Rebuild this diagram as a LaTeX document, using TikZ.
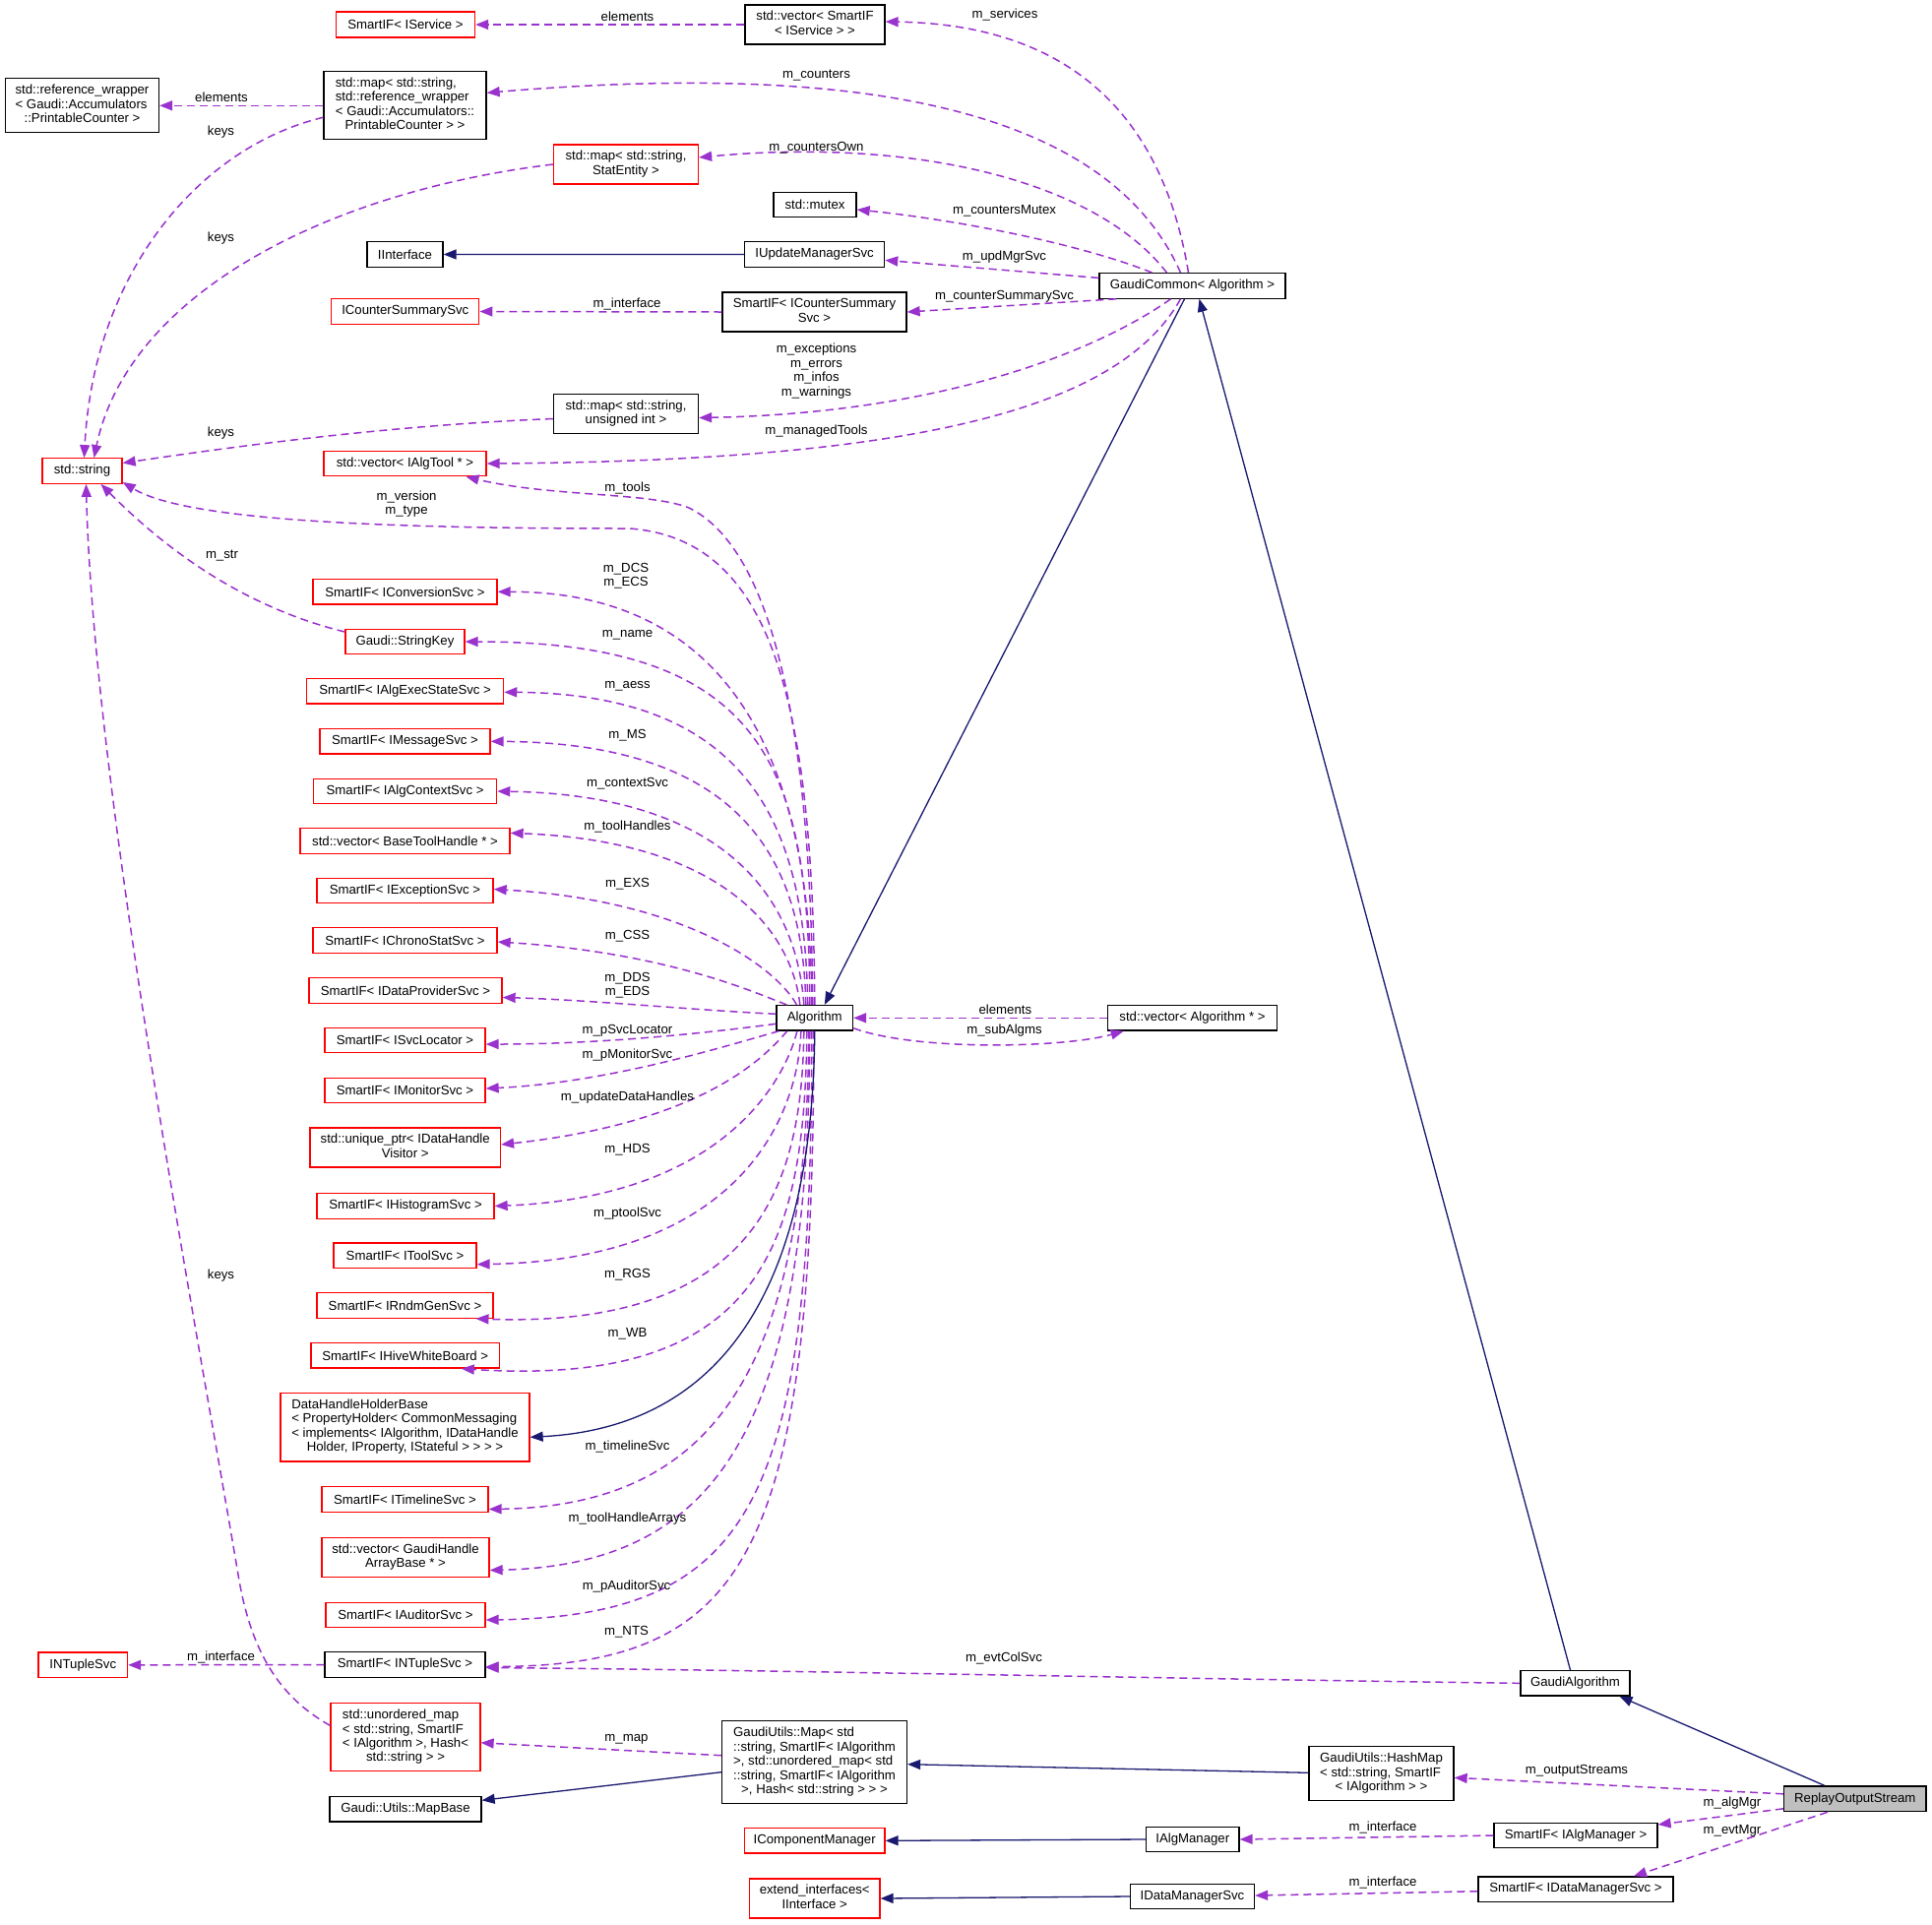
\documentclass[tikz,border=0pt]{standalone}
\usepackage{fontspec}
\setmainfont{Liberation Sans}
\usetikzlibrary{arrows.meta,calc}
\definecolor{purp}{HTML}{9A32CD}
\definecolor{navy}{HTML}{191970}
\definecolor{boxred}{HTML}{FF0000}
\definecolor{greyfill}{HTML}{BFBFBF}
\newcommand\dxf{\fontsize{13.2}{14.4}\selectfont}
\newcommand\ml[2]{\begin{tabular}{@{}l@{}}#1\\\multicolumn{1}{@{}c@{}}{#2}\end{tabular}}
\tikzset{
 bx/.style={draw, fill=white, line width=1.3pt, inner sep=0pt, font=\dxf, anchor=center, minimum height=25.5pt},
 rb/.style={bx, draw=boxred},
 kb/.style={bx, draw=black},
 lb/.style={inner sep=0pt, font=\dxf, align=center},
 dep/.style={draw=purp, line width=1.5pt, dash pattern=on 8pt off 5pt, -{Triangle[length=13pt,width=10pt]}},
 inh/.style={draw=navy, line width=1.3pt, -{Triangle[length=13pt,width=10pt]}},
}
\begin{document}
\begin{tikzpicture}[x=1pt,y=-1pt]
\fill[white] (0,0) rectangle (1963,1955);
\useasboundingbox (0,0) rectangle (1963,1955);
% ---------- nodes ----------
\node[rb,minimum width=141pt,minimum height=26pt] (svc) at (412,25) {SmartIF< IService >};
\node[kb,minimum width=142pt,minimum height=40pt] (vecsvc) at (828,25) {\ml{std::vector< SmartIF}{< IService > >}};
\node[kb,minimum width=156pt,minimum height=55pt] (refw) at (83.5,107.3) {\ml{std::reference\_wrapper\\< Gaudi::Accumulators}{::PrintableCounter >}};
\node[kb,minimum width=165pt,minimum height=69pt] (mapref) at (411.5,107.3) {\ml{std::map< std::string,\\std::reference\_wrapper\\< Gaudi::Accumulators::}{PrintableCounter > >}};
\node[rb,minimum width=147pt,minimum height=40pt] (mapstat) at (636,167) {\ml{std::map< std::string,}{StatEntity >}};
\node[kb,minimum width=84pt] (mutex) at (828,208) {std::mutex};
\node[kb,minimum width=77pt] (iiface) at (411.5,258.5) {IInterface};
\node[kb,minimum width=142pt] (iupd) at (827.6,258.4) {IUpdateManagerSvc};
\node[kb,minimum width=189pt] (gcommon) at (1211.5,290.4) {GaudiCommon< Algorithm >};
\node[rb,minimum width=150pt] (icsum) at (411.8,316.5) {ICounterSummarySvc};
\node[kb,minimum width=187pt,minimum height=40pt] (sicsum) at (827.5,317) {\ml{SmartIF< ICounterSummary}{Svc >}};
\node[kb,minimum width=147pt,minimum height=40pt] (mapuint) at (636,420.5) {\ml{std::map< std::string,}{unsigned int >}};
\node[rb,minimum width=81pt] (stdstr) at (83.5,478.5) {std::string};
\node[rb,minimum width=165pt] (vecat) at (411.5,471) {std::vector< IAlgTool * >};
\node[rb,minimum width=187pt] (iconv) at (411.5,601.3) {SmartIF< IConversionSvc >};
\node[rb,minimum width=121pt] (strkey) at (411.5,652) {Gaudi::StringKey};
\node[rb,minimum width=200pt] (iaess) at (411.6,702.3) {SmartIF< IAlgExecStateSvc >};
\node[rb,minimum width=173pt] (imsg) at (411.5,753.3) {SmartIF< IMessageSvc >};
\node[rb,minimum width=186pt] (ictx) at (411.6,804) {SmartIF< IAlgContextSvc >};
\node[rb,minimum width=213pt] (vecbth) at (411.5,854.4) {std::vector< BaseToolHandle * >};
\node[rb,minimum width=179pt] (iexc) at (411.5,905) {SmartIF< IExceptionSvc >};
\node[rb,minimum width=187pt] (ichrono) at (411.5,955.5) {SmartIF< IChronoStatSvc >};
\node[rb,minimum width=196pt] (idp) at (412,1006.5) {SmartIF< IDataProviderSvc >};
\node[kb,minimum width=77.5pt] (algo) at (827.8,1034.3) {Algorithm};
\node[kb,minimum width=172.3pt] (vecalg) at (1211.5,1034.3) {std::vector< Algorithm * >};
\node[rb,minimum width=163pt] (isvcloc) at (411.5,1057) {SmartIF< ISvcLocator >};
\node[rb,minimum width=163pt] (imon) at (411.5,1108) {SmartIF< IMonitorSvc >};
\node[rb,minimum width=193.5pt,minimum height=40pt] (uptr) at (411.7,1166) {\ml{std::unique\_ptr< IDataHandle}{Visitor >}};
\node[rb,minimum width=180pt] (ihist) at (412,1225.5) {SmartIF< IHistogramSvc >};
\node[rb,minimum width=145pt] (itool) at (411.5,1275.7) {SmartIF< IToolSvc >};
\node[rb,minimum width=179pt] (irndm) at (411.5,1326.5) {SmartIF< IRndmGenSvc >};
\node[rb,minimum width=191.6pt] (ihive) at (411.8,1377.3) {SmartIF< IHiveWhiteBoard >};
\node[rb,minimum width=253pt,minimum height=69.4pt] (dhhb) at (411.5,1450.3) {\ml{DataHandleHolderBase\\< PropertyHolder< CommonMessaging\\< implements< IAlgorithm, IDataHandle}{Holder, IProperty, IStateful > > > >}};
\node[rb,minimum width=169pt] (itime) at (411.5,1523.5) {SmartIF< ITimelineSvc >};
\node[rb,minimum width=170pt,minimum height=40pt] (vecgh) at (412,1582.5) {\ml{std::vector< GaudiHandle}{ArrayBase * >}};
\node[rb,minimum width=162pt] (iaud) at (412,1641) {SmartIF< IAuditorSvc >};
\node[rb,minimum width=90.5pt] (intuple) at (84.3,1691.8) {INTupleSvc};
\node[kb,minimum width=163pt] (sintuple) at (411.5,1691.5) {SmartIF< INTupleSvc >};
\node[rb,minimum width=152pt,minimum height=69pt] (umap) at (412,1765.3) {\ml{std::unordered\_map\\< std::string, SmartIF\\< IAlgorithm >, Hash<}{std::string > >}};
\node[kb,minimum width=188pt,minimum height=84pt] (gumap) at (827.5,1790.7) {\ml{GaudiUtils::Map< std\\::string, SmartIF< IAlgorithm\\>, std::unordered\_map< std\\::string, SmartIF< IAlgorithm}{>, Hash< std::string > > >}};
\node[kb,minimum width=154pt] (mapbase) at (412,1838.3) {Gaudi::Utils::MapBase};
\node[rb,minimum width=142.6pt] (icomp) at (827.7,1870.3) {IComponentManager};
\node[rb,minimum width=132.5pt,minimum height=40pt] (extif) at (827.7,1929) {\ml{extend\_interfaces<}{IInterface >}};
\node[kb,minimum width=111pt] (galg) at (1600.5,1710.3) {GaudiAlgorithm};
\node[kb,minimum width=147pt,minimum height=55pt] (hashmap) at (1403.5,1802.3) {\ml{GaudiUtils::HashMap\\< std::string, SmartIF}{< IAlgorithm > >}};
\node[kb,fill=greyfill,minimum width=144.4pt,minimum height=25.7pt] (replay) at (1884.8,1827.8) {ReplayOutputStream};
\node[kb,minimum width=94.4pt] (ialgmgr) at (1211.8,1869) {IAlgManager};
\node[kb,minimum width=166pt] (sialgmgr) at (1601,1865) {SmartIF< IAlgManager >};
\node[kb,minimum width=126pt] (idms) at (1211.5,1927) {IDataManagerSvc};
\node[kb,minimum width=198pt] (sidms) at (1601,1919.7) {SmartIF< IDataManagerSvc >};
% ---------- GaudiCommon edges ----------
\draw[dep] (vecsvc.west) -- (svc.east);
\draw[dep] ($(gcommon.north)+(-4,0)$) .. controls (1180,110) and (1080,25) .. ($(vecsvc.east)+(0,-3)$);
\draw[dep] ($(gcommon.north)+(-12,0)$) .. controls (1130,120) and (900,60) .. ($(mapref.east)+(0,-13)$);
\draw[dep] ($(gcommon.north)+(-26,0)$) .. controls (1110,180) and (920,140) .. ($(mapstat.east)+(0,-7)$);
\draw[dep] ($(gcommon.north)+(-41,0)$) .. controls (1090,245) and (960,222) .. ($(mutex.east)+(0,5)$);
\draw[dep] ($(gcommon.west)+(0,-8)$) -- ($(iupd.east)+(0,6)$);
\draw[inh] (iupd.west) -- (iiface.east);
\draw[dep] ($(gcommon.south west)+(18,0)$) -- (sicsum.east);
\draw[dep] (sicsum.west) -- (icsum.east);
\draw[dep] ($(gcommon.south)+(-22,0)$) .. controls (1110,360) and (950,420) .. ($(mapuint.east)+(0,4)$);
\draw[dep] ($(gcommon.south)+(-12,0)$) .. controls (1140,410) and (950,468) .. (vecat.east);
% ---------- keys / elements ----------
\draw[dep] (mapref.west) -- (refw.east);
\draw[dep] ($(mapref.west)+(0,12)$) .. controls (200,150) and (95,280) .. ($(stdstr.north)+(2,0)$);
\draw[dep] (mapstat.west) .. controls (330,195) and (130,300) .. ($(stdstr.north)+(12,0)$);
\draw[dep] ($(mapuint.west)+(0,5)$) .. controls (400,432) and (250,452) .. ($(stdstr.east)+(0,-8)$);
\draw[dep] ($(strkey.west)+(0,-10)$) .. controls (260,620) and (180,570) .. ($(stdstr.south)+(19,0)$);
\draw[dep] ($(umap.west)+(0,-12)$) .. controls (285,1725) and (255,1680) .. (242,1600) .. controls (200,1350) and (95,800) .. ($(stdstr.south)+(4,0)$);
% ---------- Algorithm upper fan ----------
\draw[dep] ($(algo.north)+(-2,0)$) .. controls (824,760) and (790,560) .. (700,516) .. controls (660,500) and (560,505) .. ($(vecat.south)+(62,0)$);
\draw[dep] (algo.north) .. controls (826,700) and (780,548) .. (640,537) .. controls (400,537) and (190,530) .. ($(stdstr.south east)+(0,-2)$);
\draw[dep] ($(algo.north)+(-3,0)$) .. controls (824,770) and (740,601) .. (iconv.east);
\draw[dep] ($(algo.north)+(-5,0)$) .. controls (822,780) and (777,652) .. (strkey.east);
\draw[dep] ($(algo.north)+(-7,0)$) .. controls (818,850) and (770,705) .. ($(iaess.east)+(0,1)$);
\draw[dep] ($(algo.north)+(-9,0)$) .. controls (816,880) and (760,755) .. (imsg.east);
\draw[dep] ($(algo.north)+(-11,0)$) .. controls (810,920) and (745,808) .. (ictx.east);
\draw[dep] ($(algo.north)+(-15,0)$) .. controls (805,950) and (740,855) .. ($(vecbth.east)+(0,-8)$);
\draw[dep] ($(algo.north west)+(21,0)$) .. controls (790,985) and (700,915) .. ($(iexc.east)+(0,-1.5)$);
\draw[dep] ($(algo.north west)+(11,0)$) .. controls (770,1010) and (680,968) .. ($(ichrono.east)+(0,1.5)$);
\draw[dep] ($(algo.west)+(0,-4)$) .. controls (700,1026) and (600,1016) .. ($(idp.east)+(0,7)$);
% ---------- Algorithm lower fan ----------
\draw[dep] ($(algo.west)+(0,6)$) .. controls (700,1052) and (600,1061) .. ($(isvcloc.east)+(0,4)$);
\draw[dep] ($(algo.south west)+(3,0)$) .. controls (740,1062) and (620,1100) .. ($(imon.east)+(0,-2)$);
\draw[dep] ($(algo.south)+(-28,0)$) .. controls (780,1070) and (720,1140) .. ($(uptr.east)+(0,-3)$);
\draw[dep] ($(algo.south)+(-18,0)$) .. controls (805,1070) and (760,1215) .. (ihist.east);
\draw[dep] ($(algo.south)+(-14,0)$) .. controls (812,1120) and (765,1280) .. ($(itool.east)+(0,9)$);
\draw[dep] ($(algo.south)+(-11,0)$) .. controls (815,1204) and (770,1350) .. ($(irndm.south)+(72,0)$);
\draw[dep] ($(algo.south)+(-8,0)$) .. controls (818,1270) and (770,1410) .. ($(ihive.south)+(57,0)$);
\draw[dep] ($(algo.south)+(-6,0)$) .. controls (820,1400) and (720,1530) .. ($(itime.east)+(0,10)$);
\draw[dep] ($(algo.south)+(-5,0)$) .. controls (822,1450) and (730,1590) .. ($(vecgh.east)+(0,13)$);
\draw[dep] ($(algo.south)+(-3,0)$) .. controls (825,1520) and (770,1642) .. ($(iaud.east)+(0,5)$);
\draw[dep] ($(algo.south)+(-1,0)$) .. controls (827,1580) and (760,1692) .. ($(sintuple.east)+(0,2)$);
\draw[inh] (algo.south) .. controls (826,1300) and (740,1450) .. ($(dhhb.east)+(0,10)$);
% ---------- inheritance right ----------
\draw[inh] ($(gcommon.south)+(-8,0)$) -- ($(algo.north)+(10,0)$);
\draw[inh] ($(galg.north)+(-5,0)$) -- ($(gcommon.south)+(7,0)$);
\draw[inh] ($(replay.north)+(-31,0)$) -- ($(galg.south)+(45,0)$);
\draw[dep] (vecalg.west) -- (algo.east);
\draw[dep] ($(algo.south east)+(0,-3)$) .. controls (930,1068) and (1080,1065) .. ($(vecalg.south west)+(17,0)$);
\draw[dep] (galg.west) .. controls (1200,1706) and (800,1697) .. ($(sintuple.east)+(0,3)$);
\draw[dep] (sintuple.west) -- (intuple.east);
\draw[dep] ($(replay.west)+(0,-5)$) -- ($(hashmap.east)+(0,4)$);
\draw[inh] ($(hashmap.west)+(0,-1)$) -- ($(gumap.east)+(0,2)$);
\draw[dep] ($(gumap.west)+(0,-7)$) -- ($(umap.east)+(0,5.5)$);
\draw[inh] ($(gumap.west)+(0,10)$) -- ($(mapbase.east)+(0,-9)$);
\draw[dep] ($(replay.west)+(0,10)$) -- ($(sialgmgr.east)+(0,-11)$);
\draw[dep] (sialgmgr.west) -- (ialgmgr.east);
\draw[inh] (ialgmgr.west) -- (icomp.east);
\draw[dep] ($(replay.south)+(-28,0)$) -- ($(sidms.north)+(59,0)$);
\draw[dep] ($(sidms.west)+(0,2)$) -- ($(idms.east)+(0,-1)$);
\draw[inh] (idms.west) -- (extif.east);
% ---------- labels ----------
\node[lb] (l01) at (637.5,16.6) {elements};
\node[lb] (l02) at (1021,15) {m\_services};
\node[lb] (l03) at (829.5,77) {m\_counters};
\node[lb] (l04) at (225,99) {elements};
\node[lb] (l05) at (224.5,134) {keys};
\node[lb] (l06) at (829.5,150) {m\_countersOwn};
\node[lb] (l07) at (224.5,242) {keys};
\node[lb] (l08) at (1020.5,214.5) {m\_countersMutex};
\node[lb] (l09) at (1020.5,261) {m\_updMgrSvc};
\node[lb] (l10) at (637,309) {m\_interface};
\node[lb] (l11) at (1020.5,301) {m\_counterSummarySvc};
\node[lb] (l12) at (829.5,377) {m\_exceptions\\m\_errors\\m\_infos\\m\_warnings};
\node[lb] (l13) at (224.5,440) {keys};
\node[lb] (l14) at (829.5,438) {m\_managedTools};
\node[lb] (l15) at (637.5,496) {m\_tools};
\node[lb] (l16) at (413,512) {m\_version\\m\_type};
\node[lb] (l17) at (225.5,565) {m\_str};
\node[lb] (l18) at (636,585) {m\_DCS\\m\_ECS};
\node[lb] (l19) at (637.5,645) {m\_name};
\node[lb] (l20) at (637.5,697) {m\_aess};
\node[lb] (l21) at (637.5,747) {m\_MS};
\node[lb] (l22) at (637.5,796) {m\_contextSvc};
\node[lb] (l23) at (637.5,840) {m\_toolHandles};
\node[lb] (l24) at (637.5,898) {m\_EXS};
\node[lb] (l25) at (637.5,951) {m\_CSS};
\node[lb] (l26) at (637.5,1001) {m\_DDS\\m\_EDS};
\node[lb] (l27) at (1021.4,1026) {elements};
\node[lb] (l28) at (1020.5,1047) {m\_subAlgms};
\node[lb] (l29) at (637.5,1047) {m\_pSvcLocator};
\node[lb] (l30) at (637.5,1072.5) {m\_pMonitorSvc};
\node[lb] (l31) at (637.5,1114.6) {m\_updateDataHandles};
\node[lb] (l32) at (637.5,1168) {m\_HDS};
\node[lb] (l33) at (637.5,1233) {m\_ptoolSvc};
\node[lb] (l34) at (224.5,1296) {keys};
\node[lb] (l35) at (637.5,1295) {m\_RGS};
\node[lb] (l36) at (637.5,1355) {m\_WB};
\node[lb] (l37) at (637.5,1470) {m\_timelineSvc};
\node[lb] (l38) at (637.5,1543) {m\_toolHandleArrays};
\node[lb] (l39) at (636.5,1612) {m\_pAuditorSvc};
\node[lb] (l40) at (636.5,1658) {m\_NTS};
\node[lb] (l41) at (224.5,1684) {m\_interface};
\node[lb] (l42) at (1020,1685) {m\_evtColSvc};
\node[lb] (l43) at (636.5,1767) {m\_map};
\node[lb] (l44) at (1602,1799) {m\_outputStreams};
\node[lb] (l45) at (1760,1832) {m\_algMgr};
\node[lb] (l46) at (1405,1857) {m\_interface};
\node[lb] (l47) at (1760,1860) {m\_evtMgr};
\node[lb] (l48) at (1405,1913) {m\_interface};
\end{tikzpicture}
\end{document}
